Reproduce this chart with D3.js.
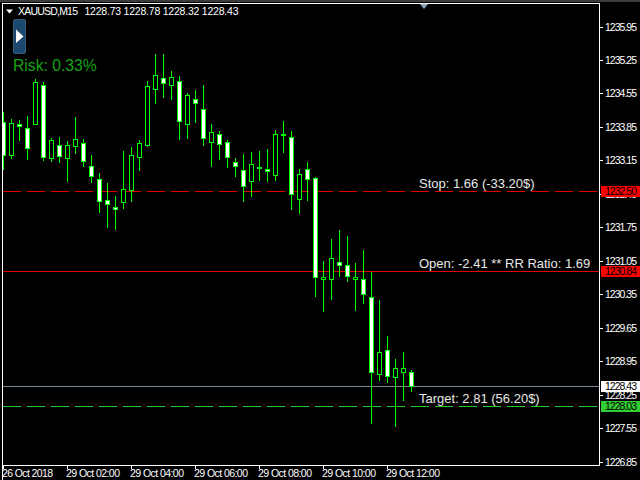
<!DOCTYPE html>
<html><head><meta charset="utf-8">
<script src="https://cdnjs.cloudflare.com/ajax/libs/d3/7.8.5/d3.min.js"></script>
<style>html,body{margin:0;padding:0;background:#000;overflow:hidden}svg{display:block}text{font-family:"Liberation Sans",Arial,sans-serif}</style>
</head><body><svg id="c" width="640" height="480"></svg>
<script>
const opens=[1233.96,1233.27,1233.92,1233.82,1233.92,1234.72,1233.19,1233.48,1233.19,1233.46,1233.52,1233.04,1232.75,1232.33,1232.17,1232.27,1232.52,1233.23,1233.48,1234.65,1234.88,1234.72,1234.82,1233.90,1234.44,1234.23,1233.54,1233.71,1233.54,1233.11,1232.94,1232.71,1233.02,1232.96,1232.85,1233.67,1233.63,1232.35,1232.96,1232.79,1230.66,1230.66,1231.03,1230.97,1230.66,1230.66,1230.30,1228.69,1229.19,1228.61,1228.73,1228.73];
const highs=[1234.17,1234.03,1234.00,1234.09,1234.86,1234.80,1233.63,1233.65,1233.57,1234.07,1233.61,1233.27,1232.90,1232.69,1232.41,1233.36,1233.44,1233.59,1234.82,1235.39,1235.39,1235.03,1234.93,1234.57,1234.63,1234.74,1233.92,1233.77,1233.59,1233.21,1233.29,1233.34,1233.36,1233.40,1233.80,1233.98,1233.77,1232.98,1233.13,1232.81,1231.05,1231.51,1231.70,1231.58,1231.01,1231.28,1230.82,1230.24,1229.49,1229.00,1229.15,1228.78];
const lows=[1232.96,1233.19,1233.57,1233.17,1233.90,1233.15,1233.13,1233.11,1232.71,1233.29,1233.02,1232.69,1232.06,1231.75,1231.70,1232.14,1232.29,1232.94,1233.44,1234.34,1234.46,1234.42,1233.59,1233.61,1233.94,1233.46,1233.02,1233.17,1233.00,1232.81,1232.29,1232.39,1232.73,1232.71,1232.73,1233.31,1232.12,1232.04,1232.31,1230.30,1229.99,1230.24,1230.72,1230.61,1230.01,1230.15,1227.64,1228.54,1228.50,1227.58,1228.13,1228.32];
const closes=[1233.27,1233.94,1233.86,1233.40,1234.78,1233.23,1233.57,1233.25,1233.48,1233.59,1233.13,1232.83,1232.31,1232.23,1232.14,1232.56,1233.27,1233.52,1234.70,1234.93,1234.76,1234.90,1233.98,1234.51,1234.34,1233.61,1233.75,1233.50,1233.21,1233.04,1232.62,1233.08,1232.98,1232.92,1233.71,1233.71,1232.44,1232.87,1232.75,1230.72,1230.70,1231.10,1230.97,1230.74,1230.72,1230.36,1228.73,1229.15,1228.63,1228.80,1228.80,1228.43];
const yTicks=[1235.95,1235.25,1234.55,1233.85,1233.15,1232.45,1231.75,1231.05,1230.35,1229.65,1228.95,1228.25,1227.55,1226.85];
const xLabels=["26 Oct 2018","29 Oct 02:00","29 Oct 04:00","29 Oct 06:00","29 Oct 08:00","29 Oct 10:00","29 Oct 12:00"];
const xTickIdx=[0,8,16,24,32,40,48];
const levelPrices=[1232.50,1230.84,1228.03,1228.43];
const levelNames=["Stop: 1.66 (-33.20$)","Open: -2.41 ** RR Ratio: 1.69","Target: 2.81 (56.20$)",""];
const levelColors=["#e00000","#e00000","#22cc22","#778899"];
const boxFill=["#ff0000","#ff0000","#32cd32","#ffffff"];
const levelDash=["18,6",null,"18,6",null];
const title="XAUUSD,M15";
const ohlcText="1228.73 1228.78 1228.32 1228.43";
const riskText="Risk: 0.33%";

const svg=d3.select("#c");
const fg="#ffffff", green="#00ff00";
const L=2.5,R=599.5,T=3.5,B=465.5;
const y=d3.scaleLinear().domain([1235.95,1226.85]).range([27,462]);
const x=d3.scaleLinear().domain([0,51]).range([3,411]);
const snap=v=>Math.round(v)+0.5;
const ix=d3.range(opens.length);
const levelY=p=>snap(y(p)-.5)+(p===1228.03?1:0);

svg.append("rect").attr("width",640).attr("height",480).attr("fill","#000");
svg.append("rect").attr("width",640).attr("height",2).attr("fill","#3c3c3c");

const plot=svg.append("g");
svg.append("clipPath").attr("id","pc").append("rect").attr("x",L+.5).attr("y",T).attr("width",R-L-.5).attr("height",B-T);
plot.attr("clip-path","url(#pc)").attr("shape-rendering","crispEdges");

levelPrices.forEach((p,i)=>{
  const l=plot.append("line").attr("x1",3).attr("x2",R).attr("y1",levelY(p)).attr("y2",levelY(p))
    .attr("stroke",levelColors[i]).attr("stroke-width",1);
  if(levelDash[i]) l.attr("stroke-dasharray",levelDash[i]);
});

const bodyTop=i=>snap(y(Math.max(opens[i],closes[i]))-.5);
const bodyBottom=i=>snap(y(Math.min(opens[i],closes[i]))-.5);
const g=plot.selectAll("g.c").data(ix).join("g").attr("class","c");
g.append("line").attr("x1",i=>x(i)+.5).attr("x2",i=>x(i)+.5)
  .attr("y1",i=>Math.round(y(highs[i]))).attr("y2",i=>Math.round(y(lows[i])))
  .attr("stroke",green);
g.append("rect")
  .attr("x",i=>x(i)-1.5).attr("width",4)
  .attr("y",bodyTop)
  .attr("height",i=>Math.max(1,bodyBottom(i)-bodyTop(i)))
  .attr("fill",i=>closes[i]>opens[i]?"#000":"#fff")
  .attr("stroke",green);

const frame=svg.append("g").attr("shape-rendering","crispEdges");
frame.append("path").attr("d",`M${L},480V${T}H${R}V${B}H${L}`).attr("fill","none").attr("stroke",fg);
frame.selectAll("line.yt").data(yTicks).join("line").attr("x1",R).attr("x2",R+3)
  .attr("y1",d=>snap(y(d)-.5)).attr("y2",d=>snap(y(d)-.5)).attr("stroke",fg);
frame.selectAll("line.xt").data(xTickIdx).join("line").attr("x1",i=>x(i)+.5).attr("x2",i=>x(i)+.5)
  .attr("y1",B).attr("y2",B+3).attr("stroke",fg);

svg.append("g").selectAll("text").data(yTicks).join("text")
  .attr("x",605).attr("y",d=>y(d)+3.5).attr("font-size",10.5).attr("fill",fg).attr("textLength",32).text(d=>d.toFixed(2));
svg.append("g").selectAll("text").data(xLabels).join("text")
  .attr("x",(d,i)=>x(xTickIdx[i])-1).attr("y",477).attr("font-size",10.5).attr("fill",fg)
  .attr("textLength",(d,i)=>i?54:51).text(d=>d);

levelPrices.forEach((p,i)=>{
  const yy=Math.floor(levelY(p));
  svg.append("rect").attr("x",601).attr("y",yy-5).attr("width",39).attr("height",11).attr("fill",boxFill[i]).attr("shape-rendering","crispEdges");
  svg.append("text").attr("x",605).attr("y",yy+4).attr("font-size",10.5).attr("fill","#000").attr("textLength",32).text(p.toFixed(2));
  if(levelNames[i]) svg.append("text").attr("x",419).attr("y",yy-3).attr("font-size",13).attr("fill","#e8e8e8").text(levelNames[i]);
});

svg.append("path").attr("d","M6,9.5h7l-3.5,4z").attr("fill",fg);
svg.append("text").attr("x",18).attr("y",15).attr("font-size",10.5).attr("fill",fg).attr("textLength",60).text(title);
svg.append("text").attr("x",84.5).attr("y",15).attr("font-size",10.5).attr("fill",fg).attr("textLength",154).text(ohlcText);
svg.append("path").attr("d","M420,4h8l-4,5z").attr("fill","#8fa3b5");
svg.append("rect").attr("x",13.5).attr("y",19.5).attr("width",12).attr("height",34).attr("rx",1.5).attr("fill","#1c4870").attr("stroke","#3a5a78");
svg.append("path").attr("d","M16,29.5l7.5,7l-7.5,6.5z").attr("fill",fg);
svg.append("text").attr("x",13).attr("y",71).attr("font-size",15.7).attr("fill","#16a316").text(riskText);
</script></body></html>
